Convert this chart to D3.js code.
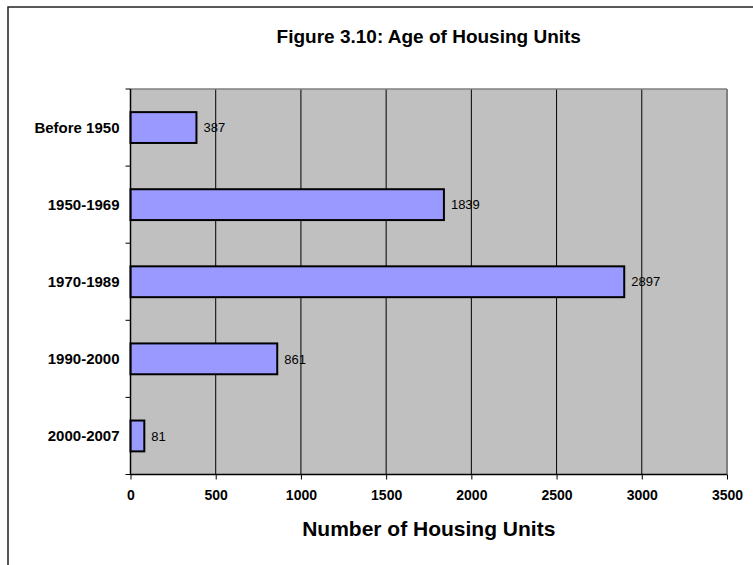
<!DOCTYPE html>
<html>
<head>
<meta charset="utf-8">
<script src="https://cdn.jsdelivr.net/npm/d3@7"></script>
<style>
  html, body { margin: 0; padding: 0; background: #fff; }
  svg { display: block; font-family: "Liberation Sans", Arial, Helvetica, sans-serif; }
</style>
</head>
<body>
<svg id="chart" width="753" height="565"></svg>
<script>
// Housing units by period built
const categories = ["Before 1950", "1950-1969", "1970-1989", "1990-2000", "2000-2007"];
const units = [387, 1839, 2897, 861, 81];
const xTicks = [0, 500, 1000, 1500, 2000, 2500, 3000, 3500];
const title = "Figure 3.10: Age of Housing Units";
const xTitle = "Number of Housing Units";

const svg = d3.select("#chart");
const plot = { left: 130.5, top: 89, right: 727, bottom: 474.5 };

// chart frame (runs off the right and bottom edges)
svg.append("rect")
  .attr("x", 8).attr("y", 7)
  .attr("width", 800).attr("height", 600)
  .attr("fill", "#fff").attr("stroke", "#222").attr("stroke-width", 1.5);

const x = d3.scaleLinear().domain([0, 3500]).range([plot.left, plot.right]);
const y = d3.scaleBand().domain(categories)
  .range([plot.top, plot.bottom])
  .paddingInner(0.6).paddingOuter(0.3);

// plot area
svg.append("rect")
  .attr("x", plot.left).attr("y", plot.top)
  .attr("width", plot.right - plot.left).attr("height", plot.bottom - plot.top)
  .attr("fill", "#c0c0c0");

// vertical gridlines
svg.append("g").selectAll("line")
  .data(xTicks.filter(d => d > 0 && d < 3500))
  .join("line")
  .attr("x1", d => x(d)).attr("x2", d => x(d))
  .attr("y1", plot.top).attr("y2", plot.bottom)
  .attr("stroke", "#000").attr("stroke-width", 1);

// plot border (grey top/right)
svg.append("line")
  .attr("x1", plot.left).attr("x2", plot.right)
  .attr("y1", plot.top).attr("y2", plot.top)
  .attr("stroke", "#808080").attr("stroke-width", 1.5);
svg.append("line")
  .attr("x1", plot.right).attr("x2", plot.right)
  .attr("y1", plot.top).attr("y2", plot.bottom)
  .attr("stroke", "#808080").attr("stroke-width", 2);

// bars
svg.append("g").selectAll("rect")
  .data(units)
  .join("rect")
  .attr("x", x(0))
  .attr("y", (d, i) => y(categories[i]))
  .attr("width", d => x(d) - x(0))
  .attr("height", y.bandwidth())
  .attr("fill", "#9999ff")
  .attr("stroke", "#000").attr("stroke-width", 2);

// value labels
svg.append("g").selectAll("text")
  .data(units)
  .join("text")
  .attr("x", d => x(d) + 7)
  .attr("y", (d, i) => y(categories[i]) + y.bandwidth() / 2)
  .attr("dy", "0.36em")
  .attr("font-size", 13)
  .attr("fill", "#000")
  .text(d => d);

// x axis
const xAxis = d3.axisBottom(x).tickValues(xTicks).tickFormat(d3.format("d"))
  .tickSize(5).tickPadding(11);
const gx = svg.append("g").attr("transform", `translate(0,${plot.bottom})`).call(xAxis);
gx.select(".domain").attr("stroke", "#000").attr("stroke-width", 1.5)
  .attr("d", `M${plot.left},0H${plot.right}`);
gx.selectAll(".tick line").attr("stroke", "#000");
gx.selectAll(".tick text")
  .attr("font-size", 14).attr("font-weight", "bold")
  .attr("font-family", "'Liberation Sans', Arial, sans-serif")
  .attr("fill", "#000");

// y axis: ticks between categories
const yBounds = d3.range(categories.length + 1).map(i => plot.top + i * y.step());
const gy = svg.append("g");
gy.append("line")
  .attr("x1", plot.left).attr("x2", plot.left)
  .attr("y1", plot.top).attr("y2", plot.bottom)
  .attr("stroke", "#000").attr("stroke-width", 1.5);
gy.selectAll("line.tk").data(yBounds).join("line").attr("class", "tk")
  .attr("x1", plot.left - 5).attr("x2", plot.left)
  .attr("y1", d => d).attr("y2", d => d)
  .attr("stroke", "#000");
gy.selectAll("text").data(categories).join("text")
  .attr("x", plot.left - 11)
  .attr("y", d => y(d) + y.bandwidth() / 2)
  .attr("dy", "0.36em")
  .attr("text-anchor", "end")
  .attr("font-size", 15).attr("font-weight", "bold")
  .text(d => d);

// titles
svg.append("text")
  .attr("x", (plot.left + plot.right) / 2).attr("y", 43)
  .attr("text-anchor", "middle")
  .attr("font-size", 19).attr("font-weight", "bold")
  .text(title);
svg.append("text")
  .attr("x", (plot.left + plot.right) / 2).attr("y", 536)
  .attr("text-anchor", "middle")
  .attr("font-size", 21).attr("font-weight", "bold")
  .text(xTitle);
</script>
</body>
</html>
